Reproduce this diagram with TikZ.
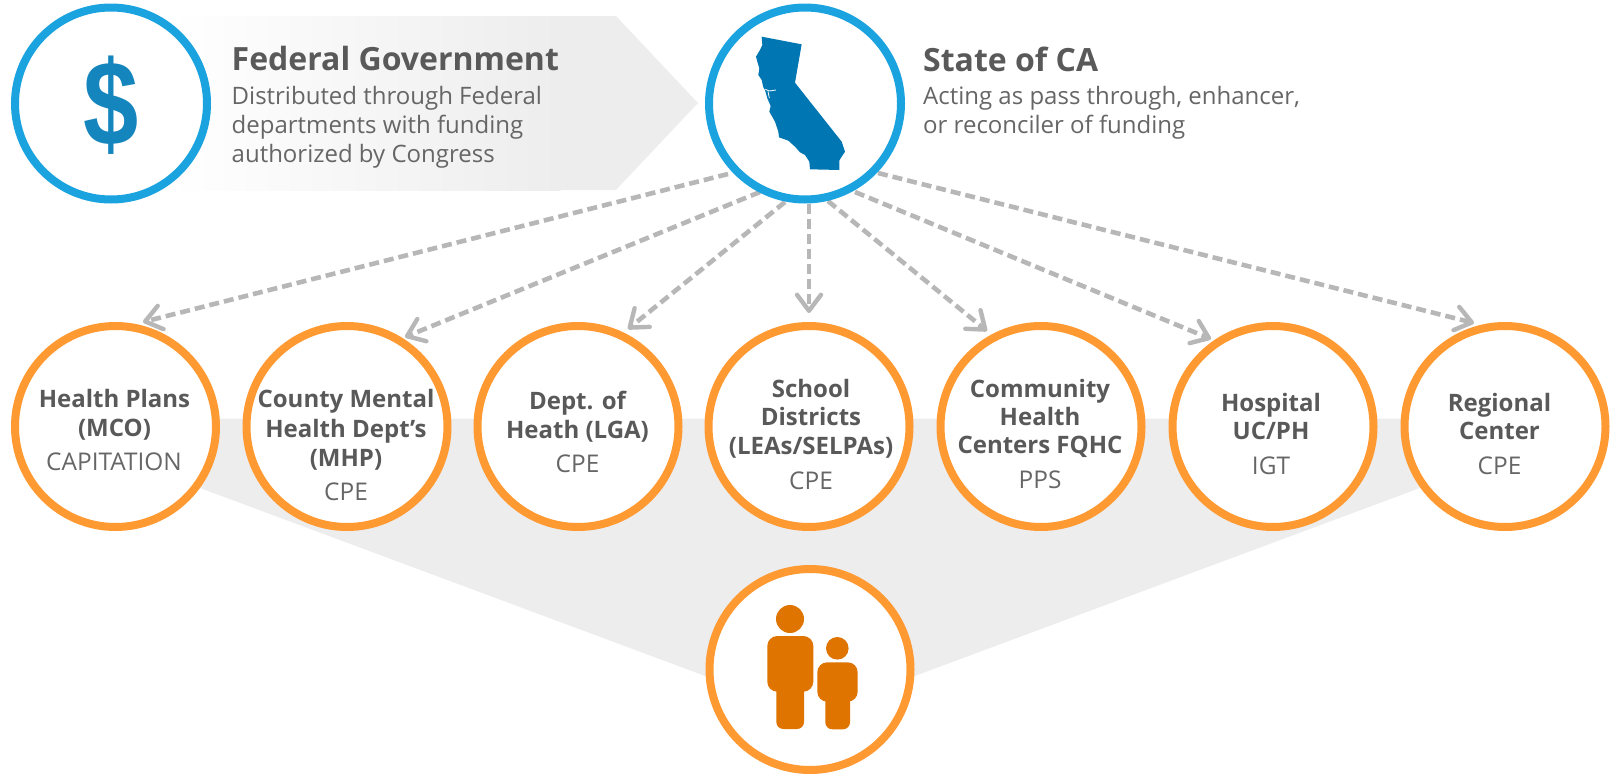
\documentclass[tikz,border=0pt]{standalone}
\usepackage{fontspec}
\setmainfont{Open Sans}
\newfontfamily\dollarfont{Liberation Sans}
\usetikzlibrary{arrows.meta}
\definecolor{ctext}{HTML}{595959}
\definecolor{cbody}{HTML}{666666}
\definecolor{cblue}{HTML}{1AA3DF}
\definecolor{cdollar}{HTML}{1585BD}
\definecolor{cstate}{HTML}{0077B3}
\definecolor{corange}{HTML}{FF9A33}
\definecolor{cfam}{HTML}{E07400}
\definecolor{cband}{HTML}{EDEDED}
\definecolor{carrow}{HTML}{B7B7B7}
\tikzset{
  bluecirc/.style={circle,draw=cblue,line width=8pt,fill=white,minimum size=192pt,inner sep=0pt},
  orangecirc/.style={circle,draw=corange,line width=8pt,fill=white,minimum size=201pt,inner sep=0pt},
  headbig/.style={anchor=base west,inner sep=0pt,text=ctext,font=\fontsize{32}{32}\selectfont\bfseries},
  headtxt/.style={anchor=base west,inner sep=0pt,text=cbody,font=\fontsize{24}{24}\selectfont},
  bt/.style={anchor=base,inner sep=0pt,text=ctext,font=\fontsize{24}{24}\selectfont\bfseries},
  rt/.style={anchor=base,inner sep=0pt,text=cbody,font=\fontsize{24.4}{24}\selectfont},
  flow/.style={draw=carrow,line width=4.6pt,dash pattern=on 10pt off 5pt,
    -{Straight Barb[length=16pt,width=24pt,line width=4.4pt,round]}},
}
\begin{document}
\begin{tikzpicture}[x=1pt,y=-1pt]
\useasboundingbox (0,0) rectangle (1610,774);
% funding arrow band
\fill[cband] (560,16) -- (616,16) -- (698,103) -- (616,190) -- (560,190) -- cycle;
\shade[left color=white,right color=cband] (170,16) rectangle (560.5,190);
% lower funnel band
\fill[cband] (200,418.6) -- (1420,418.6) -- (1420,488) -- (810,715) -- (200,488) -- cycle;
% anchor coordinates of the connectors
\coordinate (s1) at (728,174);
\coordinate (s2) at (760,192);
\coordinate (s3) at (785,202);
\coordinate (s4) at (809,204);
\coordinate (s5) at (828,201);
\coordinate (s6) at (855,192);
\coordinate (s7) at (878,173);
\coordinate (t1) at (143,322);
\coordinate (t2) at (405,337);
\coordinate (t3) at (628,329);
\coordinate (t4) at (809,313);
\coordinate (t5) at (987,331);
\coordinate (t6) at (1211,339);
\coordinate (t7) at (1474,323);
\foreach \i in {1,...,7} {\draw[flow] (s\i) -- (t\i);}
% circles
\node[bluecirc] (fed) at (111,103.5) {};
\node[bluecirc] (state) at (805,103.5) {};
\node[orangecirc] (c1) at (115.5,426.5) {};
\node[orangecirc] (c2) at (347,426.5) {};
\node[orangecirc] (c3) at (578,426.5) {};
\node[orangecirc] (c4) at (809,426.5) {};
\node[orangecirc] (c5) at (1041,426.5) {};
\node[orangecirc] (c6) at (1273,426.5) {};
\node[orangecirc] (c7) at (1505,426.5) {};
\node[orangecirc] (people) at (810,669.5) {};
% dollar
\node[inner sep=0pt,text=cdollar,font=\dollarfont\fontsize{116}{116}\selectfont\bfseries] (dollar) at (111.5,105) {\scalebox{.855}[1.04]{\$}};
% California
\begin{scope}[shift={(680,0)},x=0.3333pt,y=-0.3333pt]
\fill[cstate] (245,110) -- (365,133) -- (345,248) -- (485,425) -- (495,455) -- (485,470) -- (478,482) -- (478,510)
  -- (390,508) -- (388,485) -- (375,465) -- (360,457) -- (345,440) -- (325,422) -- (297,412) -- (295,395)
  -- (285,365) -- (268,335) -- (272,318) -- (262,295) -- (255,270) -- (250,262) -- (245,240) -- (235,225)
  -- (238,205) -- (232,185) -- (228,170) -- (240,150) -- (247,135) -- cycle;
\draw[white,line width=0.8pt] (256,268) -- (268,273) -- (288,270);
\draw[white,line width=0.8pt] (264,274) -- (268,294);
\end{scope}
% family
\fill[cfam] (790,619) circle (14);
\fill[cfam,rounded corners=10pt] (767.3,636) rectangle (813.3,691.7);
\fill[cfam,rounded corners=7pt] (776.3,680) rectangle (804,729);
\fill[cfam] (837.3,648.3) circle (11.3);
\fill[cfam,rounded corners=10pt] (817.3,662.3) rectangle (857.7,701.7);
\fill[cfam,rounded corners=7pt] (825.3,690) rectangle (850,729.3);
% header text
\node[headbig] (fedt) at (231.5,70) {Federal Government};
\node[headtxt] (fedb1) at (231.5,104) {Distributed through Federal};
\node[headtxt] (fedb2) at (231.5,133) {departments with funding};
\node[headtxt] (fedb3) at (231.5,162) {authorized by Congress};
\node[headbig] (statet) at (923,71) {State of CA};
\node[headtxt] (stateb1) at (923,104) {Acting as pass through, enhancer,};
\node[headtxt] (stateb2) at (923,133) {or reconciler of funding};
% circle labels
\node[bt] (c1a) at (114.5,407) {Health Plans};
\node[bt] (c1b) at (114.5,436) {(MCO)};
\node[rt] (c1c) at (114,470) {CAPITATION};
\node[bt] (c2a) at (346,407) {County Mental};
\node[bt] (c2b) at (346,437) {Health Dept’s};
\node[bt] (c2c) at (346,466) {(MHP)};
\node[rt] (c2d) at (346,500) {CPE};
\node[bt] (c3a) at (577.5,409) {Dept. of};
\node[bt] (c3b) at (577.5,438) {Heath (LGA)};
\node[rt] (c3c) at (577.5,472) {CPE};
\node[bt] (c4a) at (811,397) {School};
\node[bt] (c4b) at (811,425) {Districts};
\node[bt] (c4c) at (811,454) {(LEAs/SELPAs)};
\node[rt] (c4d) at (811,489) {CPE};
\node[bt] (c5a) at (1040,397) {Community};
\node[bt] (c5b) at (1040,425) {Health};
\node[bt] (c5c) at (1040,453) {Centers FQHC};
\node[rt] (c5d) at (1040,488) {PPS};
\node[bt] (c6a) at (1271,411) {Hospital};
\node[bt] (c6b) at (1271,439) {UC/PH};
\node[rt] (c6c) at (1271,474) {IGT};
\node[bt] (c7a) at (1499.5,411) {Regional};
\node[bt] (c7b) at (1499.5,439) {Center};
\node[rt] (c7c) at (1499.5,474) {CPE};
\end{tikzpicture}
\end{document}
